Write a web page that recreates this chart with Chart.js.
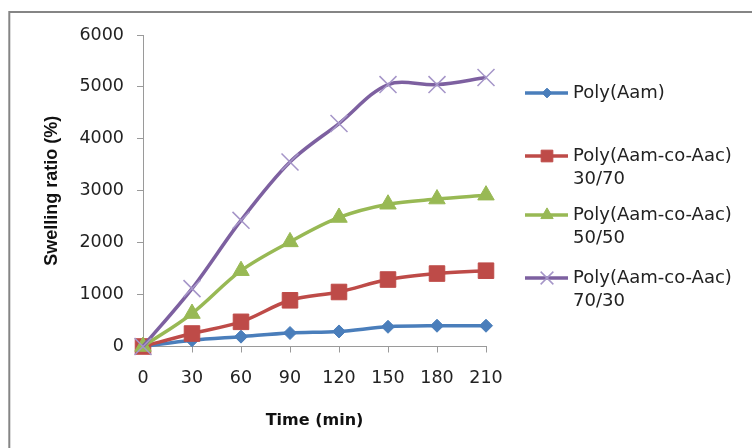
<!DOCTYPE html>
<html>
<head>
<meta charset="utf-8">
<script src="https://cdn.jsdelivr.net/npm/chart.js@4.4.1/dist/chart.umd.min.js"></script>
<style>
  html, body { margin: 0; padding: 0; background: #fff; }
  #wrap { width: 752px; height: 448px; position: relative; }
</style>
</head>
<body>
<div id="wrap"><canvas id="chart" width="752" height="448"></canvas></div>
<script>
// time points (min)
const times = ['0', '30', '60', '90', '120', '150', '180', '210']

// swelling ratio (%)
const polyAam = [0, 120, 190, 260, 290, 380, 400, 400]
const copoly3070 = [0, 250, 475, 890, 1050, 1290, 1405, 1460]
const copoly5050 = [0, 635, 1460, 2015, 2485, 2740, 2840, 2915]
const copoly7030 = [0, 1115, 2430, 3555, 4295, 5045, 5045, 5180]

const seriesNames = [
    ['Poly(Aam)'],
    ['Poly(Aam-co-Aac)', '30/70'],
    ['Poly(Aam-co-Aac)', '50/50'],
    ['Poly(Aam-co-Aac)', '70/30']
]
const yTicks = [0, 1000, 2000, 3000, 4000, 5000, 6000]

const makeSet = (name, data, line, marker, style, radius, bw, order) => ({
    label: name.join(' '),
    legendLines: name,
    data: data,
    borderColor: line,
    borderWidth: 3.5,
    backgroundColor: marker,
    pointStyle: style,
    pointRadius: radius,
    pointHoverRadius: radius,
    pointBackgroundColor: marker,
    pointBorderColor: marker,
    pointBorderWidth: bw,
    tension: 0.33,
    clip: false,
    order: order
})

const datasets = [
    makeSet(seriesNames[0], polyAam, '#4a7ebb', '#4a7ebb', 'rectRot', 6.5, 1, 4),
    makeSet(seriesNames[1], copoly3070, '#be4b48', '#be4b48', 'rect', 11, 1, 3),
    makeSet(seriesNames[2], copoly5050, '#98b954', '#98b954', 'triangle', 9.5, 1, 2),
    makeSet(seriesNames[3], copoly7030, '#7d60a0', '#a595c8', 'crossRot', 12, 1.5, 1)
]

// outer frame like the exported figure
const framePlugin = {
    id: 'frame',
    beforeDraw: (chart) => {
        const ctx = chart.ctx
        ctx.save()
        ctx.fillStyle = '#ffffff'
        ctx.fillRect(0, 0, chart.width, chart.height)
        ctx.strokeStyle = '#858585'
        ctx.lineWidth = 2
        ctx.strokeRect(9.3, 12, 800, 500)
        ctx.restore()
    }
}

// legend on the right: line + marker, wrapped labels
const legendRows = [93, 156, 215, 278]
const sideLegend = {
    id: 'sideLegend',
    afterDraw: (chart) => {
        const ctx = chart.ctx
        ctx.save()
        chart.data.datasets.forEach((ds, i) => {
            const y = legendRows[i]
            ctx.strokeStyle = ds.borderColor
            ctx.lineWidth = ds.borderWidth
            ctx.beginPath()
            ctx.moveTo(525, y)
            ctx.lineTo(568, y)
            ctx.stroke()

            ctx.fillStyle = ds.pointBackgroundColor
            ctx.strokeStyle = ds.pointBorderColor
            ctx.lineWidth = ds.pointBorderWidth
            Chart.helpers.drawPoint(ctx, {
                pointStyle: ds.pointStyle,
                radius: ds.pointRadius * 0.75,
                borderWidth: ds.pointBorderWidth,
                rotation: 0
            }, 547, y)

            ctx.fillStyle = '#222'
            ctx.font = '18px "DejaVu Sans"'
            ctx.textBaseline = 'middle'
            ctx.textAlign = 'left'
            ds.legendLines.forEach((txt, k) => {
                ctx.fillText(txt, 573, y + k * 23)
            })
        })
        ctx.restore()
    }
}

const config = {
    type: 'line',
    data: {
        labels: times,
        datasets: datasets
    },
    options: {
        responsive: false,
        animation: false,
        layout: {
            padding: { left: 41, top: 35, right: 266, bottom: 10 }
        },
        plugins: {
            legend: { display: false },
            tooltip: { enabled: false }
        },
        scales: {
            x: {
                type: 'category',
                offset: false,
                afterFit: (scale) => { scale.height = 91.5 },
                grid: {
                    display: true,
                    drawOnChartArea: false,
                    drawTicks: true,
                    tickLength: 6,
                    color: '#9a9a9a'
                },
                border: { color: '#9a9a9a', width: 1 },
                ticks: {
                    color: '#222',
                    padding: 15,
                    maxRotation: 0,
                    font: { family: 'DejaVu Sans', size: 17.5 }
                },
                title: {
                    display: true,
                    text: 'Time (min)',
                    color: '#111',
                    padding: { top: 0, bottom: 8 },
                    font: { family: 'DejaVu Sans', size: 16, weight: 'bold' }
                }
            },
            y: {
                min: 0,
                max: 6000,
                afterFit: (scale) => { scale.width = 102 },
                afterBuildTicks: (scale) => {
                    scale.ticks = yTicks.map(v => ({ value: v }))
                },
                grid: {
                    display: true,
                    drawOnChartArea: false,
                    drawTicks: true,
                    tickLength: 6,
                    color: '#9a9a9a'
                },
                border: { color: '#9a9a9a', width: 1 },
                ticks: {
                    color: '#222',
                    padding: 13,
                    font: { family: 'DejaVu Sans', size: 17.5 },
                    callback: (value) => String(value)
                },
                title: {
                    display: true,
                    text: 'Swelling ratio (%)',
                    color: '#111',
                    padding: { top: 0, bottom: 0 },
                    font: { family: 'Liberation Sans', size: 18, weight: 'bold' }
                }
            }
        }
    },
    plugins: [framePlugin, sideLegend]
}

const myChart = new Chart(document.getElementById('chart').getContext('2d'), config)
</script>
</body>
</html>
